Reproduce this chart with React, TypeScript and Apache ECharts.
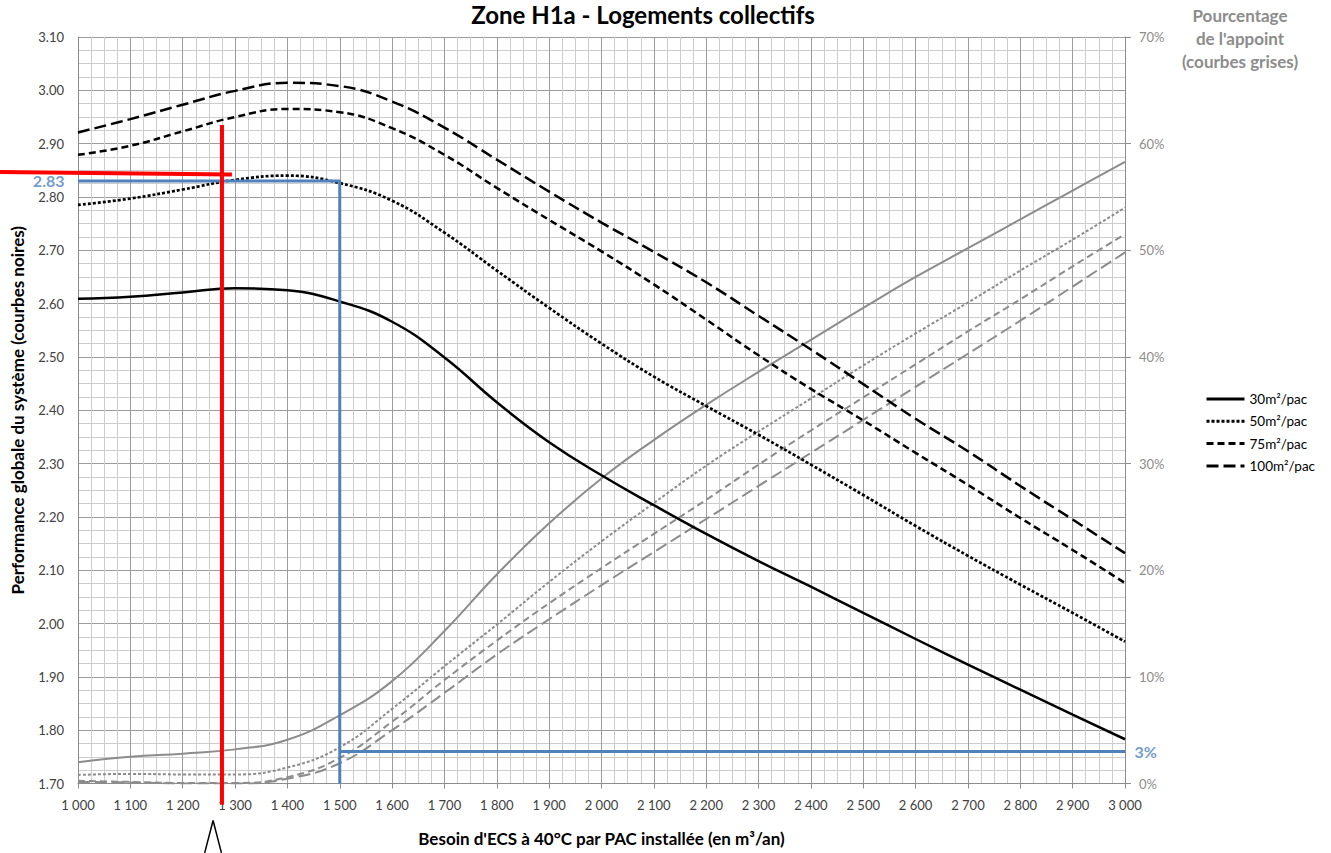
import React, { useEffect, useRef } from "react";
import * as echarts from "echarts";

// Besoin d'ECS par PAC installée (m³/an)
const besoin = [1000, 1100, 1200, 1300, 1400, 1500, 1600, 1700, 1800, 1900, 2000, 2100, 2200, 2300, 2400, 2500, 2600, 2700, 2800, 2900, 3000];

// Performance globale du système (courbes noires, axe de gauche)
const perf30 = [2.609, 2.613, 2.621, 2.629, 2.625, 2.604, 2.566, 2.499, 2.415, 2.340, 2.278, 2.222, 2.168, 2.117, 2.069, 2.020, 1.971, 1.923, 1.876, 1.829, 1.783];
const perf50 = [2.785, 2.797, 2.814, 2.832, 2.840, 2.826, 2.793, 2.733, 2.662, 2.592, 2.525, 2.463, 2.408, 2.354, 2.298, 2.241, 2.183, 2.127, 2.073, 2.020, 1.966];
const perf75 = [2.879, 2.896, 2.923, 2.950, 2.965, 2.959, 2.929, 2.879, 2.817, 2.757, 2.698, 2.636, 2.570, 2.503, 2.440, 2.381, 2.320, 2.260, 2.198, 2.138, 2.076];
const perf100 = [2.921, 2.946, 2.973, 2.999, 3.014, 3.008, 2.979, 2.930, 2.870, 2.810, 2.752, 2.697, 2.640, 2.577, 2.514, 2.449, 2.384, 2.323, 2.258, 2.195, 2.132];

// Pourcentage de l'appoint (courbes grises, axe de droite, en %)
const appoint30 = [2.0, 2.5, 2.8, 3.2, 4.1, 6.4, 9.6, 14.3, 19.6, 24.4, 28.6, 32.2, 35.5, 38.6, 41.6, 44.6, 47.5, 50.2, 52.9, 55.6, 58.3];
const appoint50 = [0.8, 0.9, 0.85, 0.85, 1.5, 3.4, 7.0, 11.0, 14.9, 18.9, 22.7, 26.3, 29.8, 33.0, 36.1, 39.2, 42.2, 45.1, 48.1, 51.0, 54.0];
const appoint75 = [0.25, 0.15, 0.05, 0.05, 0.6, 2.4, 5.8, 9.7, 13.4, 16.9, 20.2, 23.4, 26.6, 29.9, 33.1, 36.2, 39.3, 42.4, 45.4, 48.5, 51.5];
const appoint100 = [0.15, 0.1, 0.0, 0.0, 0.45, 1.9, 5.0, 8.5, 12.1, 15.4, 18.6, 21.7, 24.8, 27.9, 31.0, 34.1, 37.2, 40.3, 43.4, 46.6, 49.8];

const surfaces = ["30m²/pac", "50m²/pac", "75m²/pac", "100m²/pac"];

// Lecture de l'abaque (traits bleus)
const lectureBesoin = 1500;
const lecturePerf = 2.83;
const lectureAppoint = 3;

// Repère rouge et flèche
const repereRougeV = [[1275, 2.935], [1275, 1.66]];
const repereRougeH = [[850, 2.847], [1294, 2.842]];
const fleche = [[1242, 1.57], [1258, 1.6306], [1274, 1.57]];

const FONT = "Lato, 'Open Sans', sans-serif";
const BLUE = "#4f81bd";
const GREY = "#8c8c8c";
const RED = "#ff0000";
const MAJOR_GRID = "#9c9c9c";
const MINOR_GRID = "#cdcdcd";

const dashStyles: any[] = ["solid", [3, 2], [7, 4], [12, 5]];

const pairs = (ys: number[]) => besoin.map((x, i) => [x, ys[i]]);

const formatMilliers = (v: number) => String(Math.round(v)).replace(/\B(?=(\d{3})+(?!\d))/g, " ");

export default function App() {
  const ref = useRef<HTMLDivElement>(null);

  useEffect(() => {
    const chart = echarts.init(ref.current!, null, { renderer: "svg" });

    const perfSeries = [perf30, perf50, perf75, perf100].map((ys, i) => ({
      name: surfaces[i],
      type: "line",
      yAxisIndex: 0,
      data: pairs(ys),
      smooth: 0.45,
      symbol: "none",
      showSymbol: false,
      color: "#000",
      lineStyle: { color: "#000", width: i === 1 ? 2.7 : 2.5, type: dashStyles[i] },
      z: 4,
    }));

    const appointSeries = [appoint30, appoint50, appoint75, appoint100].map((ys, i) => ({
      name: "Appoint " + surfaces[i],
      type: "line",
      yAxisIndex: 1,
      data: pairs(ys),
      smooth: 0.45,
      symbol: "none",
      showSymbol: false,
      color: GREY,
      lineStyle: { color: GREY, width: 2, type: dashStyles[i] },
      z: 3,
    }));

    const option: any = {
      animation: false,
      textStyle: { fontFamily: FONT },
      grid: { left: 78, top: 37, width: 1047, height: 746.5, containLabel: false },
      legend: {
        data: surfaces,
        orient: "vertical",
        left: 1200,
        top: 387,
        itemWidth: 38,
        itemHeight: 12,
        itemGap: 8.3,
        itemStyle: { opacity: 0, borderWidth: 0 },
        lineStyle: { width: 3 },
        textStyle: { fontSize: 13.5, color: "#000", fontFamily: FONT },
      },
      xAxis: {
        type: "value",
        min: 1000,
        max: 3000,
        interval: 100,
        name: "Besoin d'ECS à 40°C par PAC installée (en m³/an)",
        nameLocation: "middle",
        nameGap: 46,
        nameTextStyle: { fontSize: 17, fontWeight: "bold", color: "#000", fontFamily: FONT },
        axisLine: { show: true, lineStyle: { color: "#8c8c8c", width: 1 } },
        axisTick: { show: true, length: 5, lineStyle: { color: "#8c8c8c" } },
        axisLabel: { formatter: formatMilliers, fontSize: 13, color: "#404040", margin: 15 },
        splitLine: { show: true, lineStyle: { color: MAJOR_GRID, width: 1 } },
        minorTick: { show: false, splitNumber: 4 },
        minorSplitLine: { show: true, lineStyle: { color: MINOR_GRID, width: 1 } },
      },
      yAxis: [
        {
          type: "value",
          min: 1.7,
          max: 3.1,
          interval: 0.1,
          name: "Performance globale du système (courbes noires)",
          nameLocation: "middle",
          nameGap: 52,
          nameTextStyle: { fontSize: 17, fontWeight: "bold", color: "#000", fontFamily: FONT },
          axisLine: { show: true, lineStyle: { color: "#8c8c8c" } },
          axisTick: { show: false },
          axisLabel: { formatter: (v: number) => v.toFixed(2), fontSize: 13, color: "#404040", margin: 14 },
          splitLine: { show: true, lineStyle: { color: MAJOR_GRID, width: 1 } },
          minorTick: { show: false, splitNumber: 4 },
          minorSplitLine: { show: true, lineStyle: { color: MINOR_GRID, width: 1 } },
        },
        {
          type: "value",
          min: 0,
          max: 70,
          interval: 10,
          position: "right",
          axisLine: { show: true, lineStyle: { color: "#8c8c8c" } },
          axisTick: { show: true, length: 6, lineStyle: { color: "#8c8c8c" } },
          axisLabel: { formatter: "{value}%", fontSize: 13, color: GREY, margin: 14 },
          splitLine: { show: false },
        },
      ],
      graphic: [
        {
          type: "text",
          x: 643,
          y: 14,
          style: {
            text: "Zone H1a - Logements collectifs",
            font: `bold 24px ${FONT}`,
            fill: "#000",
            textAlign: "center",
            textVerticalAlign: "middle",
          },
        },
        {
          type: "text",
          x: 1240,
          y: 4,
          style: {
            text: "Pourcentage\nde l'appoint\n(courbes grises)",
            font: `bold 17px ${FONT}`,
            fill: GREY,
            textAlign: "center",
            lineHeight: 23,
          },
        },
      ],
      series: [
        ...appointSeries,
        ...perfSeries,
        {
          name: "lecture-perf",
          type: "line",
          yAxisIndex: 0,
          data: [[1000, lecturePerf], [lectureBesoin, lecturePerf], [lectureBesoin, 1.7]],
          symbol: "none",
          lineStyle: { color: BLUE, width: 3 },
          z: 5,
          silent: true,
        },
        {
          name: "lecture-appoint",
          type: "line",
          yAxisIndex: 1,
          data: [[lectureBesoin, lectureAppoint], [3000, lectureAppoint]],
          symbol: "none",
          lineStyle: { color: BLUE, width: 3 },
          z: 5,
          silent: true,
        },
        {
          name: "label-perf",
          type: "scatter",
          yAxisIndex: 0,
          data: [[1000, lecturePerf]],
          symbolSize: 1,
          itemStyle: { color: "rgba(0,0,0,0)" },
          label: {
            show: true,
            position: "left",
            distance: 13,
            formatter: () => lecturePerf.toFixed(2),
            color: BLUE,
            fontWeight: "bold",
            fontSize: 16,
            fontFamily: FONT,
          },
          z: 6,
        },
        {
          name: "label-appoint",
          type: "scatter",
          yAxisIndex: 1,
          data: [[3000, lectureAppoint]],
          symbolSize: 1,
          itemStyle: { color: "rgba(0,0,0,0)" },
          label: {
            show: true,
            position: "right",
            distance: 9,
            formatter: () => `${lectureAppoint}%`,
            color: BLUE,
            fontWeight: "bold",
            fontSize: 16,
            fontFamily: FONT,
          },
          z: 6,
        },
        {
          name: "repere-v",
          type: "line",
          yAxisIndex: 0,
          data: repereRougeV,
          symbol: "none",
          clip: false,
          lineStyle: { color: RED, width: 4 },
          z: 8,
          silent: true,
        },
        {
          name: "fleche",
          type: "line",
          yAxisIndex: 0,
          data: fleche,
          symbol: "none",
          clip: false,
          lineStyle: { color: "#000", width: 1.5 },
          z: 8,
          silent: true,
        },
      ],
    };

    chart.setOption(option);

    // Trait rouge horizontal : il déborde à gauche de la zone de tracé,
    // on le place avec l'échelle de la grille.
    const p0 = chart.convertToPixel({ gridIndex: 0 }, repereRougeH[0]) as number[];
    const p1 = chart.convertToPixel({ gridIndex: 0 }, repereRougeH[1]) as number[];
    chart.setOption({
      graphic: [
        {
          type: "line",
          id: "repere-h",
          shape: { x1: p0[0], y1: p0[1], x2: p1[0], y2: p1[1] },
          style: { stroke: RED, lineWidth: 4 },
          z: 100,
          silent: true,
        },
      ],
    });

    return () => chart.dispose();
  }, []);

  return (
    <div
      ref={ref}
      style={{ position: "fixed", left: 0, top: 0, width: 1331, height: 853, background: "#fff" }}
    />
  );
}
